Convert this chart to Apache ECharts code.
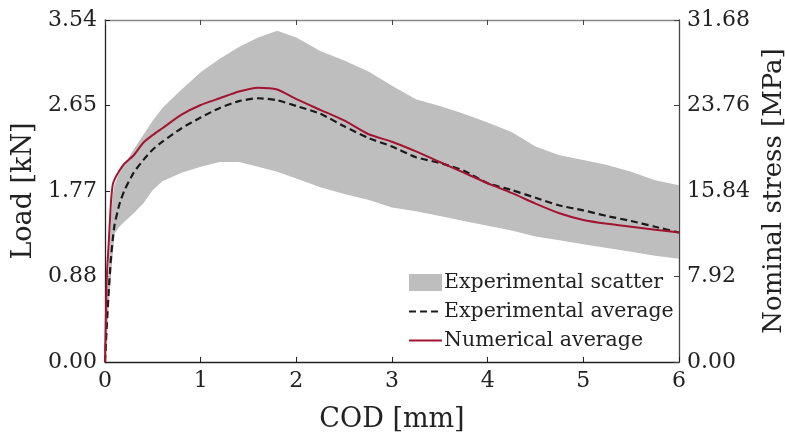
<!DOCTYPE html>
<html>
<head>
<meta charset="utf-8">
<script src="https://cdn.jsdelivr.net/npm/echarts@6/dist/echarts.min.js"></script>
<style>html,body{margin:0;padding:0;background:#fff;overflow:hidden}#c{width:785px;height:439px}</style>
</head>
<body>
<div id="c"></div>
<script>
// COD [mm] sample positions
const cod = [0, 0.01, 0.02, 0.04, 0.06, 0.08, 0.1, 0.15, 0.2, 0.3, 0.4, 0.5, 0.6, 0.8, 1.0, 1.2, 1.4, 1.6, 1.8, 2.0, 2.25, 2.5, 2.75, 3.0, 3.25, 3.5, 3.75, 4.0, 4.25, 4.5, 4.75, 5.0, 5.25, 5.5, 5.75, 6.0];
// Experimental scatter band (load, kN)
const scatterLower = [0, 0.1, 0.25, 0.6, 0.85, 1.1, 1.33, 1.40, 1.45, 1.54, 1.64, 1.78, 1.87, 1.96, 2.02, 2.07, 2.07, 2.02, 1.97, 1.90, 1.81, 1.74, 1.68, 1.60, 1.56, 1.51, 1.46, 1.41, 1.36, 1.30, 1.26, 1.22, 1.18, 1.14, 1.10, 1.07];
const scatterUpper = [0, 0.3, 0.6, 1.0, 1.45, 1.72, 1.84, 1.96, 2.04, 2.20, 2.35, 2.50, 2.63, 2.82, 3.00, 3.14, 3.26, 3.36, 3.43, 3.36, 3.22, 3.12, 3.01, 2.86, 2.72, 2.65, 2.57, 2.48, 2.38, 2.23, 2.14, 2.09, 2.04, 1.97, 1.88, 1.83];
// Experimental average (load, kN)
const expAverage = [0, 0.2, 0.4, 0.75, 1.05, 1.26, 1.42, 1.63, 1.77, 1.96, 2.09, 2.20, 2.28, 2.42, 2.53, 2.63, 2.70, 2.73, 2.71, 2.65, 2.57, 2.44, 2.32, 2.23, 2.12, 2.06, 1.98, 1.85, 1.78, 1.70, 1.62, 1.57, 1.51, 1.46, 1.40, 1.34];
// Numerical average (load, kN)
const numAverage = [0, 0.5, 0.9, 1.25, 1.62, 1.83, 1.89, 1.98, 2.05, 2.14, 2.27, 2.35, 2.42, 2.56, 2.66, 2.73, 2.80, 2.84, 2.82, 2.72, 2.61, 2.50, 2.36, 2.28, 2.18, 2.07, 1.96, 1.85, 1.75, 1.64, 1.54, 1.47, 1.43, 1.40, 1.37, 1.34];
// Tick labels
const xTicks = [0, 1, 2, 3, 4, 5, 6];
const loadTickLabels = ['0.00', '0.88', '1.77', '2.65', '3.54'];
const stressTickLabels = ['0.00', '7.92', '15.84', '23.76', '31.68'];

const FONT = 'DejaVu Serif';
const pair = (xs, ys) => xs.map((x, i) => [x, ys[i]]);
const bandData = cod.map((x, i) => [x, scatterLower[i], scatterUpper[i]]);

const chart = echarts.init(document.getElementById('c'), null, {renderer: 'canvas'});
chart.setOption({
  animation: false,
  backgroundColor: '#fff',
  grid: {left: 105, right: 106, top: 20, bottom: 77, containLabel: false, outerBoundsMode: 'none'},
  xAxis: [{
    type: 'value', min: 0, max: 6, interval: 1, position: 'bottom',
    name: 'COD [mm]', nameLocation: 'middle', nameGap: 44,
    nameTextStyle: {fontFamily: FONT, fontSize: 27, color: '#222'},
    axisLine: {onZero: false, lineStyle: {color: '#222', width: 1.3}},
    axisTick: {inside: true, length: 5, lineStyle: {color: '#222'}},
    axisLabel: {fontFamily: FONT, fontSize: 22, color: '#222', margin: 8,
      formatter: v => String(xTicks[Math.round(v)])},
    splitLine: {show: false}
  }, {
    type: 'value', min: 0, max: 6, interval: 1, position: 'top',
    axisLine: {onZero: false, lineStyle: {color: '#888', width: 1.3}},
    axisTick: {inside: true, length: 5, lineStyle: {color: '#444'}},
    axisLabel: {show: false}, splitLine: {show: false}
  }],
  yAxis: [{
    type: 'value', min: 0, max: 3.54, interval: 0.885, position: 'left',
    name: 'Load [kN]', nameLocation: 'middle', nameGap: 66,
    nameTextStyle: {fontFamily: FONT, fontSize: 27, color: '#222'},
    axisLine: {show: true, onZero: false, lineStyle: {color: '#222', width: 1.3}},
    axisTick: {show: true, inside: true, length: 5, lineStyle: {color: '#222'}},
    axisLabel: {fontFamily: FONT, fontSize: 22, color: '#222', margin: 8,
      formatter: v => loadTickLabels[Math.round(v / 0.885)]},
    splitLine: {show: false}
  }, {
    type: 'value', min: 0, max: 31.68, interval: 7.92, position: 'right',
    name: 'Nominal stress [MPa]', nameLocation: 'middle', nameGap: 78,
    nameTextStyle: {fontFamily: FONT, fontSize: 26, color: '#222'},
    axisLine: {show: true, onZero: false, lineStyle: {color: '#444', width: 1.3}},
    axisTick: {show: true, inside: true, length: 5, lineStyle: {color: '#444'}},
    axisLabel: {fontFamily: FONT, fontSize: 22, color: '#222', margin: 8,
      formatter: v => stressTickLabels[Math.round(v / 7.92)]},
    splitLine: {show: false}
  }],
  legend: {
    orient: 'vertical', left: 403, top: 266, align: 'left',
    itemWidth: 33, itemHeight: 17, itemGap: 6,
    textStyle: {fontFamily: FONT, fontSize: 20.5, color: '#222', lineHeight: 23, padding: [0, 0, 0, -3]},
    data: [
      {name: 'Experimental scatter', icon: 'rect', itemStyle: {color: '#bebebe', opacity: 1}},
      {name: 'Experimental average', itemStyle: {opacity: 0}},
      {name: 'Numerical average', itemStyle: {opacity: 0}}
    ]
  },
  series: [{
    name: 'Experimental scatter', type: 'custom', data: bandData,
    encode: {x: 0, y: [1, 2]},
    itemStyle: {color: '#bebebe'},
    renderItem: function (params, api) {
      if (params.dataIndex !== 0) return null;
      const up = bandData.map(d => api.coord([d[0], d[2]]));
      const lo = bandData.map(d => api.coord([d[0], d[1]])).reverse();
      return {
        type: 'polygon',
        shape: {points: up.concat(lo)},
        style: {fill: '#bebebe', stroke: null}
      };
    },
    z: 1, silent: true
  }, {
    name: 'Experimental average', type: 'line', data: pair(cod, expAverage),
    showSymbol: false, symbol: 'none', smooth: 0.2,
    itemStyle: {color: '#1a1a1a'},
    lineStyle: {color: '#1a1a1a', width: 2.2, type: [7, 4]}, z: 3
  }, {
    name: 'Numerical average', type: 'line', data: pair(cod, numAverage),
    showSymbol: false, symbol: 'none', smooth: 0.2,
    itemStyle: {color: '#a2142f'},
    lineStyle: {color: '#a2142f', width: 2}, z: 4
  }]
});
</script>
</body>
</html>
